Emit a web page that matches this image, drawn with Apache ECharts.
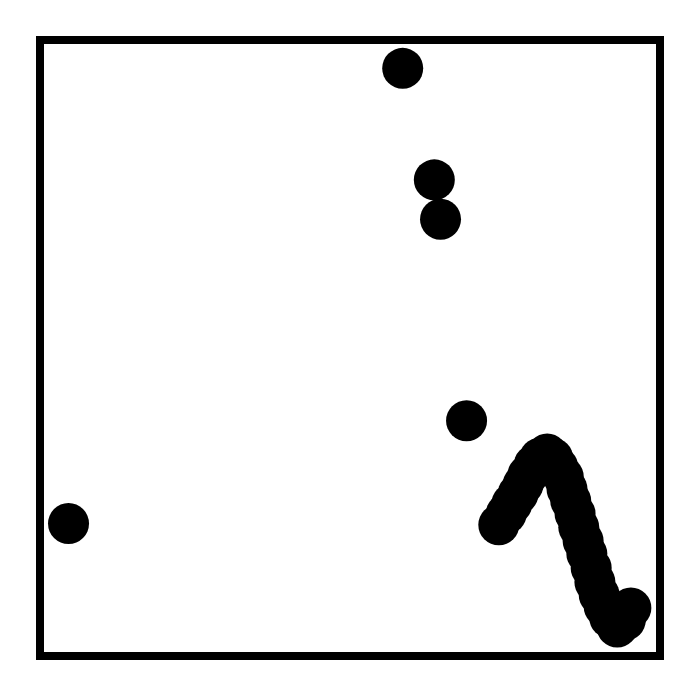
<!DOCTYPE html>
<html>
<head>
<meta charset="utf-8">
<script src="https://cdn.jsdelivr.net/npm/echarts@6/dist/echarts.min.js"></script>
<style>
html,body{margin:0;padding:0;background:#fff;}
#chart{width:700px;height:696px;}
</style>
</head>
<body>
<div id="chart"></div>
<script>
// Isolated points
const xIsolated = [58.5, 63.6, 64.6, 68.8, 4.6];
const yIsolated = [95.4, 77.3, 70.9, 38.2, 21.5];
// Dense chain of points
const xChain = [74.0, 75.2, 76.1, 77.1, 77.9, 78.7, 79.7, 80.6, 81.8, 82.7, 83.5, 84.4, 85.0, 85.6, 86.3, 86.9, 87.6, 88.2, 88.9, 89.5, 90.2, 91.0, 91.9, 93.1, 94.4, 95.3];
const yChain = [21.3, 23.1, 24.7, 26.3, 27.8, 29.4, 31.0, 32.1, 32.8, 32.1, 30.7, 29.1, 27.1, 25.2, 23.1, 20.9, 18.7, 16.6, 14.3, 12.0, 9.9, 8.0, 6.2, 4.7, 5.8, 7.8];

const pts = [];
xIsolated.forEach((x, i) => pts.push([x, yIsolated[i]]));
xChain.forEach((x, i) => pts.push([x, yChain[i]]));

const chart = echarts.init(document.getElementById('chart'));
const hiddenAxis = {
  type: 'value', min: 0, max: 100,
  axisLine: {show: false}, axisTick: {show: false},
  axisLabel: {show: false}, splitLine: {show: false}
};
chart.setOption({
  animation: false,
  backgroundColor: '#fff',
  grid: {left: 40, right: 40, top: 40, bottom: 40, show: true,
         borderColor: '#000', borderWidth: 8, backgroundColor: 'transparent'},
  xAxis: hiddenAxis,
  yAxis: hiddenAxis,
  series: [{
    type: 'scatter',
    data: pts,
    symbol: 'circle',
    symbolSize: 41,
    itemStyle: {color: '#000', opacity: 1},
    clip: false
  }]
});
</script>
</body>
</html>
